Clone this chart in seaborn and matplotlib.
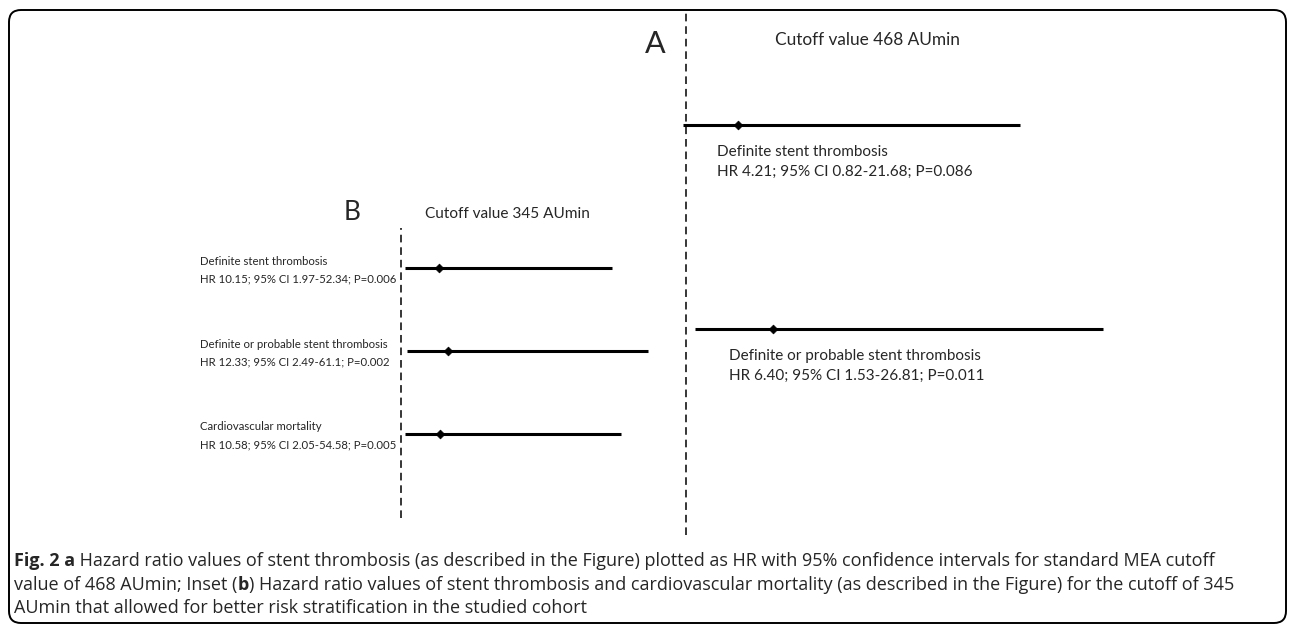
import numpy as np
import pandas as pd
import seaborn as sns
import matplotlib.pyplot as plt
from matplotlib.patches import FancyBboxPatch

W, H = 1293, 630

# Panel A - standard cutoff 468 AUmin
a_names = ["Definite stent thrombosis", "Definite or probable stent thrombosis"]
a_hr = [4.21, 6.40]
a_lo = [0.82, 1.53]
a_hi = [21.68, 26.81]
a_p = ["0.086", "0.011"]

# Panel B - inset, cutoff 345 AUmin
b_names = ["Definite stent thrombosis", "Definite or probable stent thrombosis",
           "Cardiovascular mortality"]
b_hr = [10.15, 12.33, 10.58]
b_lo = [1.97, 2.49, 2.05]
b_hi = [52.34, 61.1, 54.58]
b_p = ["0.006", "0.002", "0.005"]

caption = [
    [("Fig. 2 a", "bold"),
     (" Hazard ratio values of stent thrombosis (as described in the Figure) plotted as HR "
      "with 95% confidence intervals for standard MEA cutoff", "normal")],
    [("value of 468 AUmin; Inset (", "normal"), ("b", "bold"),
     (") Hazard ratio values of stent thrombosis and cardiovascular mortality (as described "
      "in the Figure) for the cutoff of 345", "normal")],
    [("AUmin that allowed for better risk stratification in the studied cohort", "normal")],
]


def make_df(names, hr, lo, hi, p):
    df = pd.DataFrame({"name": names, "hr": hr, "lo": lo, "hi": hi, "p": p})
    df["row"] = np.arange(len(df))
    df["stat"] = [f"HR {h:.2f}; 95% CI {l:g}-{u:g}; P={q}"
                  for h, l, u, q in zip(df.hr, df.lo, df.hi, df.p)]
    return df


dfa = make_df(a_names, a_hr, a_lo, a_hi, a_p)
dfb = make_df(b_names, b_hr, b_lo, b_hi, b_p)

sns.set_theme(style="white")
plt.rcParams["font.family"] = ["Lato", "DejaVu Sans"]

fig = plt.figure(figsize=(W / 100, H / 100), dpi=100)
fig.patch.set_facecolor("white")
canvas = fig.add_axes([0, 0, 1, 1])
canvas.set_xlim(0, W)
canvas.set_ylim(H, 0)
canvas.axis("off")
rend = fig.canvas.get_renderer()


def text_w(s, **kw):
    # width in pixels, spaces included
    t1 = canvas.text(0, 0, "|" + s + "|", **kw)
    t2 = canvas.text(0, 0, "||", **kw)
    w = t1.get_window_extent(rend).width - t2.get_window_extent(rend).width
    t1.remove()
    t2.remove()
    return w


def line_w(line, fs, family):
    return sum(text_w(s, fontsize=fs, fontweight=w, family=family) for s, w in line)


def fit(s, target, weight="normal"):
    return 10 * target / text_w(s, fontsize=10, fontweight=weight)


# outer frame
canvas.add_patch(FancyBboxPatch((9, 10), 1277, 613,
                                boxstyle="round,pad=0,rounding_size=12",
                                fc="none", ec="black", lw=1.4))


def forest(df, ref_px, px_unit, xmax, row0, gap, top, bottom):
    n = len(df)
    x0 = ref_px - px_unit
    x1 = x0 + xmax * px_unit
    ax = fig.add_axes([x0 / W, 1 - bottom / H, (x1 - x0) / W, (bottom - top) / H])
    ax.patch.set_visible(False)
    ax.axvline(1, color="black", lw=1.1, ls=(0, (5, 3.2)), clip_on=False)
    ax.hlines(df["row"], df["lo"], df["hi"], color="black", lw=2.2)
    sns.scatterplot(data=df, x="hr", y="row", marker="D", s=20, color="black",
                    edgecolor="black", linewidth=0.5, legend=False, zorder=3, ax=ax)
    ax.set_xlim(0, xmax)
    ax.set_ylim(n - 1 + (bottom - (row0 + (n - 1) * gap)) / gap, -(row0 - top) / gap)
    ax.axis("off")
    return ax


axa = forest(dfa, 686, 16.15, 30, 125, 204, 10, 535)
axb = forest(dfb, 401, 4.11, 70, 268, 83, 228, 518)

# labels panel A: under each line, starting a bit right of the lower CI
fs_a = fit(dfa.stat[0], 254)
for _, r in dfa.iterrows():
    axa.annotate(r["name"], xy=(r["lo"], r["row"]), xytext=(34, -27),
                 textcoords="offset pixels", fontsize=fs_a, va="center", ha="left")
    axa.annotate(r["stat"], xy=(r["lo"], r["row"]), xytext=(34, -47),
                 textcoords="offset pixels", fontsize=fs_a, va="center", ha="left")

# labels panel B: left of the dashed line
fs_b = fit(dfb.stat[0], 196)
for _, r in dfb.iterrows():
    axb.annotate(r["name"], xy=(200, r["row"]), xycoords=("figure pixels", "data"),
                 xytext=(0, 7), textcoords="offset pixels", fontsize=fs_b,
                 va="center", ha="left")
    axb.annotate(r["stat"], xy=(200, r["row"]), xycoords=("figure pixels", "data"),
                 xytext=(0, -11), textcoords="offset pixels", fontsize=fs_b,
                 va="center", ha="left")

canvas.text(655, 44, "A", fontsize=22, ha="center", va="center")
canvas.text(775, 40, "Cutoff value 468 AUmin", fontsize=fit("Cutoff value 468 AUmin", 185),
            ha="left", va="center")
canvas.text(352, 212, "B", fontsize=19, ha="center", va="center")
canvas.text(425, 214, "Cutoff value 345 AUmin", fontsize=fit("Cutoff value 345 AUmin", 165),
            ha="left", va="center")

# caption, sized so the second line ends about where it does in the original
cap_font = "Open Sans"
fs_c = 10 * 1225 / line_w(caption[1], 10, cap_font)
for line, yb in zip(caption, [566, 590, 613]):
    x = 14
    for s, w in line:
        canvas.text(x, yb, s, fontsize=fs_c, fontweight=w, family=cap_font,
                    va="baseline", ha="left")
        x += text_w(s, fontsize=fs_c, fontweight=w, family=cap_font)

fig.savefig("out.png", dpi=100, facecolor="white")
